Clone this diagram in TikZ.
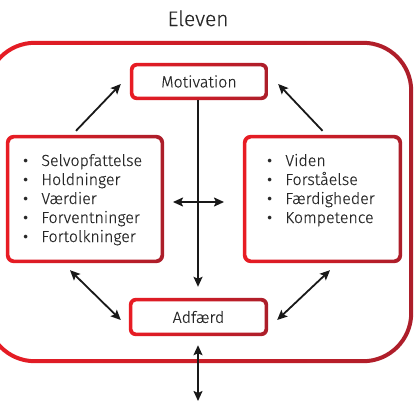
\documentclass[tikz,border=0pt]{standalone}
\usepackage{fontspec}
\setmainfont{Fira Sans}[UprightFont=* Light, UprightFeatures={FakeBold=0.3}]
\newfontfamily\bulletfont{Fira Sans}
\usetikzlibrary{arrows.meta,calc}
\definecolor{redA}{RGB}{232,28,36}
\definecolor{redB}{RGB}{172,30,42}
\definecolor{txt}{RGB}{40,40,40}
\definecolor{arrc}{RGB}{25,25,25}
\newcommand\ringbox[4]{% name, line width, outer radius, inner radius
  \shade[left color=redA,right color=redB,even odd rule]
    [rounded corners=#3] (#1.south west) rectangle (#1.north east)
    [rounded corners=#4] ([xshift=#2,yshift=#2]#1.south west) rectangle ([xshift=-#2,yshift=-#2]#1.north east);
}
\newcommand\bul{{\bulletfont\textbullet}}
\tikzset{
  box/.style={inner sep=0pt, draw=none, fill=white, text=txt, font=\fontsize{16}{19}\selectfont},
  listtext/.style={inner sep=0pt, text=txt, font=\fontsize{16}{19}\selectfont, anchor=base west},
  onearrow/.style={draw=arrc, line width=1.8pt, -{Stealth[length=10pt,width=9pt,inset=2pt]}},
  twoarrow/.style={draw=arrc, line width=1.8pt, {Stealth[length=10pt,width=9pt,inset=2pt]}-{Stealth[length=10pt,width=9pt,inset=2pt]}}
}
\begin{document}
\begin{tikzpicture}[x=1pt,y=-1pt]
\useasboundingbox (0,0) rectangle (414,402);
\clip (0,0) rectangle (414,402);
\fill[white] (0,0) rectangle (414,402);
% outer frame
\node[inner sep=0pt, minimum width=428pt, minimum height=322pt] (frame) at (199,202) {};
\ringbox{frame}{4pt}{50pt}{46pt}
\node[font=\fontsize{21}{25}\selectfont, text=txt, anchor=base] (title) at (198,26) {Eleven};
% boxes
\node[box, minimum width=138pt, minimum height=37pt] (mot) at (199,81.5) {Motivation};
\node[box, minimum width=139pt, minimum height=38pt] (adf) at (198.5,317) {Adfærd};
\node[box, minimum width=158pt, minimum height=128pt] (left) at (85,199) {};
\node[box, minimum width=159pt, minimum height=128pt] (right) at (322.5,199) {};
\ringbox{mot}{3.5pt}{7pt}{4pt}
\ringbox{adf}{3.5pt}{7pt}{4pt}
\ringbox{left}{3.5pt}{8pt}{5pt}
\ringbox{right}{3.5pt}{8pt}{5pt}
% lists
\node[listtext] (llist) at (23,166) {\begin{tabular}[t]{@{}c@{\hspace{13pt}}l@{}}
\bul & Selvopfattelse\\
\bul & Holdninger\\
\bul & Værdier\\
\bul & Forventninger\\
\bul & Fortolkninger
\end{tabular}};
\node[listtext] (rlist) at (267,166) {\begin{tabular}[t]{@{}c@{\hspace{13pt}}l@{}}
\bul & Viden\\
\bul & Forståelse\\
\bul & Færdigheder\\
\bul & Kompetence
\end{tabular}};
% connectors
\draw[onearrow] (mot.south -| 198,0) -- ($(adf.north -| 198,0)+(0,-11)$);
\coordinate (hl) at (173,202);
\coordinate (hr) at (224,202);
\draw[twoarrow] (hl) -- (hr);
\draw[onearrow] ($(left.north)+(-9,-4)$) -- ($(mot.west)+(-9,2.5)$);
\draw[onearrow] ($(right.north)+(0,-4)$) -- ($(mot.east)+(10,2.5)$);
\draw[twoarrow] ($(left.south)+(-15,7)$) -- ($(adf.west)+(-8,3)$);
\draw[twoarrow] ($(right.south)+(7.5,7)$) -- ($(adf.east)+(9,3)$);
\coordinate (out) at (198,401);
\draw[twoarrow] ($(adf.south -| 198,0)+(0,9)$) -- (out);
\end{tikzpicture}
\end{document}
